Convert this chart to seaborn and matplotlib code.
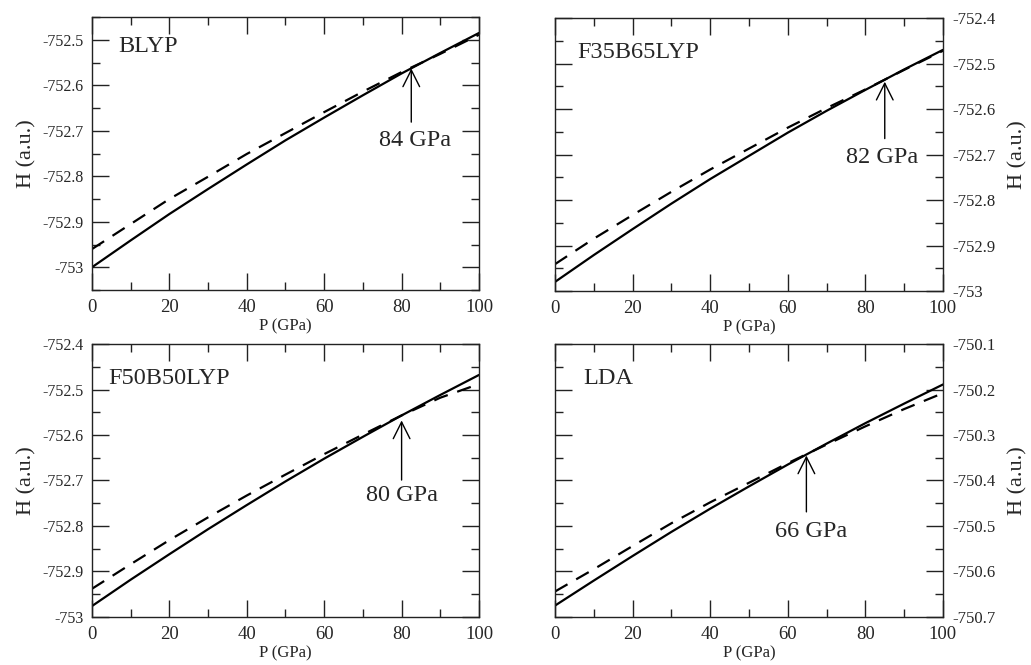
import numpy as np
import pandas as pd
import matplotlib
matplotlib.use("Agg")
import matplotlib.pyplot as plt
import seaborn as sns
from matplotlib.ticker import MultipleLocator, FuncFormatter

# pressure grid (GPa)
pressure = [0, 10, 20, 30, 40, 50, 60, 70, 80, 90, 100]

# enthalpy curves (a.u.), solid and dashed phase
blyp_solid = [-753.000, -752.941, -752.883, -752.828, -752.774, -752.721, -752.671, -752.622, -752.574, -752.529, -752.485]
blyp_dash = [-752.960, -752.905, -752.850, -752.801, -752.751, -752.705, -752.659, -752.614, -752.571, -752.531, -752.489]

f35_solid = [-752.980, -752.921, -752.864, -752.808, -752.754, -752.703, -752.652, -752.604, -752.558, -752.513, -752.470]
f35_dash = [-752.941, -752.885, -752.833, -752.782, -752.733, -752.687, -752.641, -752.598, -752.557, -752.514, -752.472]

f50_solid = [-752.976, -752.918, -752.862, -752.807, -752.754, -752.702, -752.652, -752.604, -752.557, -752.512, -752.468]
f50_dash = [-752.938, -752.884, -752.831, -752.781, -752.733, -752.687, -752.642, -752.599, -752.557, -752.518, -752.488]

lda_solid = [-750.675, -750.620, -750.566, -750.513, -750.462, -750.413, -750.365, -750.319, -750.274, -750.231, -750.189]
lda_dash = [-750.644, -750.595, -750.544, -750.494, -750.448, -750.405, -750.362, -750.321, -750.281, -750.243, -750.208]

names = ["BLYP", "F35B65LYP", "F50B50LYP", "LDA"]
crossings = ["84 GPa", "82 GPa", "80 GPa", "66 GPa"]
# arrow tip (P, H), arrow tail H, and text centre (P, H)
arrow_tips = [(82.5, -752.563), (85, -752.540), (80, -752.568), (64.8, -750.345)]
arrow_tails = [-752.681, -752.665, -752.699, -750.469]
text_pos = [(83.5, -752.722), (84.4, -752.706), (80, -752.734), (66, -750.512)]
ylims = [(-753.05, -752.45), (-753.0, -752.4), (-753.0, -752.4), (-750.7, -750.1)]
label_pos = [(6.7, -752.514), (5.7, -752.475), (4.1, -752.475), (7.2, -750.175)]

curves = [(blyp_solid, blyp_dash), (f35_solid, f35_dash),
          (f50_solid, f50_dash), (lda_solid, lda_dash)]

sns.set_style("ticks")
plt.rcParams['font.family'] = ['Liberation Serif', 'DejaVu Serif']

fig = plt.figure(figsize=(10.31, 6.65), dpi=100)
boxes = [[0.0892, 0.5639, 0.3754, 0.4105],
         [0.5383, 0.5624, 0.3763, 0.4105],
         [0.0892, 0.0722, 0.3754, 0.4105],
         [0.5383, 0.0722, 0.3763, 0.4105]]

for i, box in enumerate(boxes):
    ax = fig.add_axes(box)
    solid, dash = curves[i]
    sns.lineplot(x=pressure, y=solid, ax=ax, color='black', linewidth=1.6)
    sns.lineplot(x=pressure, y=dash, ax=ax, color='black', linewidth=1.6,
                 linestyle=(0, (6.5, 4.5)))
    ax.set_xlim(0, 100)
    ax.set_ylim(*ylims[i])
    ax.xaxis.set_major_locator(MultipleLocator(20))
    ax.xaxis.set_minor_locator(MultipleLocator(10))
    ax.yaxis.set_major_locator(MultipleLocator(0.1))
    ax.yaxis.set_minor_locator(MultipleLocator(0.05))
    ax.yaxis.set_major_formatter(FuncFormatter(lambda v, p: f"{v:g}"))
    ax.tick_params(which='both', direction='in', top=True, right=True,
                   color='#222222', width=1.0)
    ax.tick_params(which='major', length=12)
    ax.tick_params(which='minor', length=6)
    ax.tick_params(axis='x', labelsize=13.5, pad=6.5)
    ax.tick_params(axis='y', labelsize=11.5, pad=6)
    for s in ax.spines.values():
        s.set_linewidth(1.0)
        s.set_color('#222222')
    ax.set_xlabel("P (GPa)", fontsize=12, labelpad=2)
    if i % 2 == 1:
        ax.yaxis.tick_right()
        ax.yaxis.set_label_position("right")
        ax.tick_params(which='both', left=True, right=True,
                       labelleft=False, labelright=True)
        ax.tick_params(axis='y', labelsize=12, pad=7)
        ax.set_ylabel("H (a.u.)", fontsize=16, labelpad=9)
    else:
        ax.set_ylabel("H (a.u.)", fontsize=16, labelpad=4)
    ax.text(label_pos[i][0], label_pos[i][1], names[i], fontsize=17.5,
            ha='left', va='center')
    # vertical arrow pointing at the crossing, label below it
    tip = arrow_tips[i]
    ax.annotate("", xy=tip, xytext=(tip[0], arrow_tails[i]),
                arrowprops=dict(arrowstyle='->', color='black', lw=1.0,
                                mutation_scale=30, shrinkA=0, shrinkB=0))
    ax.text(text_pos[i][0], text_pos[i][1], crossings[i], fontsize=17.5,
            ha='center', va='center')

fig.savefig("out.png", dpi=100)
